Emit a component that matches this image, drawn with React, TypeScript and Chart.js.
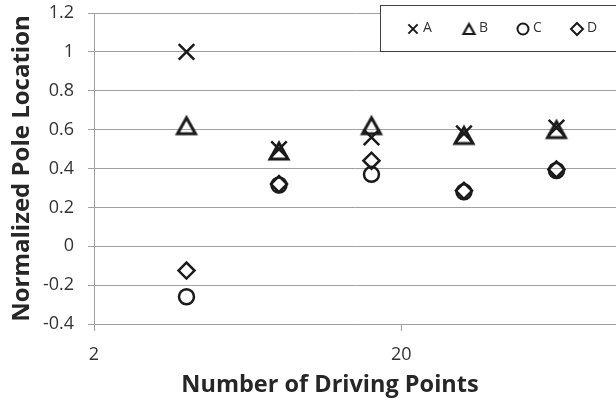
import React, { useEffect, useRef } from 'react';
import { Chart, registerables } from 'chart.js';
import { drawPoint } from 'chart.js/helpers';

Chart.register(...registerables);

const xValues = [4, 8, 16, 32, 64];
const seriesA = [1.0, 0.5, 0.56, 0.58, 0.61];
const seriesB = [0.62, 0.49, 0.62, 0.57, 0.6];
const seriesC = [-0.26, 0.315, 0.37, 0.28, 0.39];
const seriesD = [-0.125, 0.32, 0.44, 0.285, 0.395];
const seriesLabels = ['A', 'B', 'C', 'D'];
const xTickValues = [2, 20];
const yMin = -0.4;
const yMax = 1.2;
const yStep = 0.2;
const xTitle = 'Number of Driving Points';
const yTitle = 'Normalized Pole Location';

const INK = '#1a1a1a';
const GRID = '#a0a0a0';
const TEXT = '#333333';
const TITLE = '#262626';
const FONT = '"Open Sans", "Liberation Sans", sans-serif';

function makeTriangle(w: number, h: number, lw: number) {
  const c = document.createElement('canvas');
  const pad = Math.ceil(lw) + 1;
  c.width = Math.ceil(w + pad * 2);
  c.height = Math.ceil(h + pad * 2);
  const g = c.getContext('2d')!;
  const cx = c.width / 2;
  const cy = c.height / 2;
  g.strokeStyle = INK;
  g.lineWidth = lw;
  g.lineJoin = 'miter';
  g.beginPath();
  g.moveTo(cx, cy - h / 2);
  g.lineTo(cx + w / 2, cy + h / 2);
  g.lineTo(cx - w / 2, cy + h / 2);
  g.closePath();
  g.stroke();
  return c;
}

const radii = [11, 11.5, 7.5, 8];
const legendRadii = [6.5, 6.5, 5.5, 6];

export default function App() {
  const ref = useRef<HTMLCanvasElement>(null);
  useEffect(() => {
    const tri = makeTriangle(18, 16, 3);
    const triSmall = makeTriangle(11, 10, 2.2);
    const styles: any[] = ['crossRot', tri, 'circle', 'rectRot'];
    const legendStyles: any[] = ['crossRot', triSmall, 'circle', 'rectRot'];

    const legendPlugin = {
      id: 'boxLegend',
      afterDraw(chart: any) {
        const ctx = chart.ctx;
        ctx.save();
        ctx.fillStyle = '#ffffff';
        ctx.fillRect(380, 5, 260, 46);
        ctx.strokeStyle = '#404040';
        ctx.lineWidth = 1;
        ctx.strokeRect(380.5, 5.5, 260, 46);
        const xs = [413, 469, 523, 577];
        ctx.font = '14px ' + FONT;
        ctx.textBaseline = 'middle';
        ctx.textAlign = 'left';
        chart.data.datasets.forEach((ds: any, i: number) => {
          ctx.strokeStyle = INK;
          ctx.fillStyle = 'rgba(0,0,0,0)';
          ctx.lineWidth = 2;
          drawPoint(ctx, { pointStyle: legendStyles[i], radius: legendRadii[i], rotation: 0, borderWidth: 2 }, xs[i], 29);
          ctx.fillStyle = TEXT;
          ctx.fillText(ds.label, xs[i] + 10, 28);
        });
        ctx.font = 'bold 23.5px ' + FONT;
        ctx.fillStyle = TITLE;
        ctx.textAlign = 'center';
        ctx.textBaseline = 'alphabetic';
        ctx.fillText(xTitle, 330, 392);
        ctx.restore();
      },
    };

    const allSeries = [seriesA, seriesB, seriesC, seriesD];
    const chart = new Chart(ref.current!, {
      type: 'scatter',
      data: {
        datasets: allSeries.map((s, i) => ({
          label: seriesLabels[i],
          data: xValues.map((x, j) => ({ x, y: s[j] })),
          pointStyle: styles[i],
          pointRadius: radii[i],
          pointHoverRadius: radii[i],
          borderColor: INK,
          backgroundColor: 'rgba(0,0,0,0)',
          pointBorderWidth: 2.5,
          borderWidth: 2.5,
          showLine: false,
        })),
      },
      options: {
        responsive: false,
        animation: false,
        layout: { autoPadding: false, padding: { top: 13, right: 0, left: 0, bottom: 0 } },
        plugins: {
          legend: { display: false },
          tooltip: { enabled: false },
        },
        scales: {
          x: {
            type: 'logarithmic',
            min: 2,
            max: 100,
            afterBuildTicks: (scale: any) => {
              scale.ticks = xTickValues.map((v) => ({ value: v }));
            },
            afterFit: (scale: any) => {
              scale.height = 77;
              scale.paddingLeft = 0;
              scale.paddingRight = 0;
            },
            ticks: {
              autoSkip: false,
              maxRotation: 0,
              padding: 13,
              color: TEXT,
              font: { family: FONT, size: 18 },
              callback: (v: any) => String(v),
            },
            grid: { drawOnChartArea: false, drawTicks: true, tickLength: 7, color: GRID },
            border: { color: GRID },
          },
          y: {
            min: yMin,
            max: yMax,
            afterFit: (scale: any) => {
              scale.width = 94;
              scale.paddingTop = 0;
              scale.paddingBottom = 0;
            },
            ticks: {
              stepSize: yStep,
              padding: 14,
              color: TEXT,
              font: { family: FONT, size: 18 },
              callback: (v: any) => String(Number(Number(v).toFixed(1))),
            },
            grid: { color: GRID, tickLength: 6 },
            border: { color: GRID },
            title: {
              display: true,
              text: yTitle,
              color: TITLE,
              font: { family: FONT, size: 24, weight: 'bold' },
              padding: { top: 8, bottom: 0 },
            },
          },
        },
      },
      plugins: [legendPlugin],
    });
    return () => chart.destroy();
  }, []);
  return (
    <canvas
      ref={ref}
      width={616}
      height={401}
      style={{ position: 'absolute', left: 0, top: 0, display: 'block' }}
    />
  );
}
